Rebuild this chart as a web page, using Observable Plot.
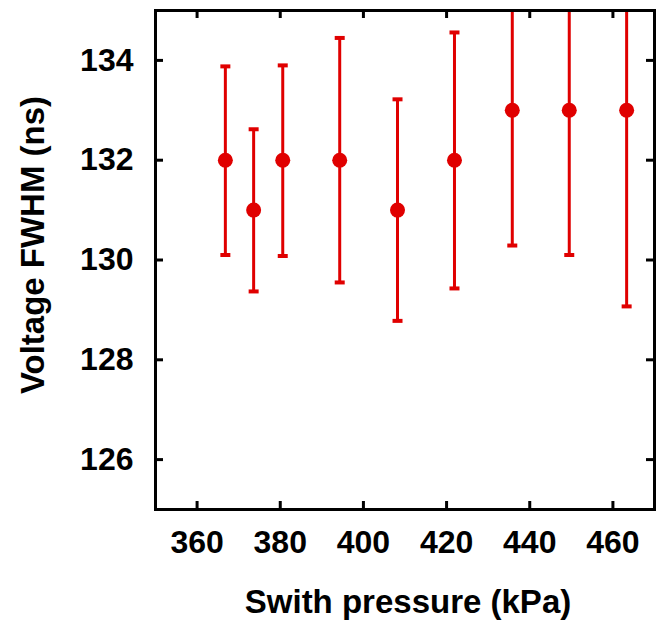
<!DOCTYPE html>
<html><head><meta charset="utf-8">
<script src="https://cdn.jsdelivr.net/npm/d3@7"></script>
<script src="https://cdn.jsdelivr.net/npm/@observablehq/plot@0.6"></script>
<style>body{margin:0;background:#fff} svg{display:block}</style>
</head><body><div id="chart"></div>
<script>
const pressure = [366.8, 373.6, 380.6, 394.3, 408.2, 421.9, 435.8, 449.5, 463.3];
const fwhm     = [132, 131, 132, 132, 131, 132, 133, 133, 133];
const errLow   = [130.10, 129.37, 130.08, 129.55, 128.78, 129.43, 130.29, 130.10, 129.07];
const errHigh  = [133.88, 132.62, 133.90, 134.45, 133.22, 134.56, 135.71, 135.90, 136.93];
const xTicks = [360, 380, 400, 420, 440, 460];
const yTicks = [126, 128, 130, 132, 134];
const xTitle = "Swith pressure (kPa)";
const yTitle = "Voltage FWHM (ns)";

const data = pressure.map((x, i) => ({x, y: fwhm[i], lo: errLow[i], hi: errHigh[i]}));
const red = "#e00000";
const capSymbol = {draw(ctx, size) { const w = Math.sqrt(size / Math.PI); ctx.moveTo(-w, 0); ctx.lineTo(w, 0); }};
const font = "'Liberation Sans', Arial, Helvetica, sans-serif";
const H = 623, mT = 10, mB = 114, W = 659, mL = 155, mR = 5;
const fh = H - mT - mB, fw = W - mL - mR, tl = 8;

const chart = Plot.plot({
  width: W, height: H,
  marginLeft: mL, marginRight: mR, marginTop: mT, marginBottom: mB,
  style: {fontFamily: font, fontWeight: "bold", background: "white", color: "black"},
  x: {domain: [350, 470]},
  y: {domain: [125, 135]},
  marks: [
    Plot.ruleX(data, {x: "x", y1: "lo", y2: "hi", stroke: red, strokeWidth: 3, clip: true}),
    Plot.dot(data, {x: "x", y: "lo", symbol: capSymbol, r: 5, fill: "none", stroke: red, strokeWidth: 4, clip: true}),
    Plot.dot(data, {x: "x", y: "hi", symbol: capSymbol, r: 5, fill: "none", stroke: red, strokeWidth: 4, clip: true}),
    Plot.dot(data, {x: "x", y: "y", r: 7.5, fill: red, stroke: "none"}),
    // inward ticks, all four sides
    Plot.ruleX(xTicks, {x: d => d, insetTop: fh - tl, stroke: "black", strokeWidth: 3}),
    Plot.ruleX(xTicks, {x: d => d, insetBottom: fh - tl, stroke: "black", strokeWidth: 3}),
    Plot.ruleY(yTicks, {y: d => d, insetRight: fw - tl, stroke: "black", strokeWidth: 3}),
    Plot.ruleY(yTicks, {y: d => d, insetLeft: fw - tl, stroke: "black", strokeWidth: 3}),
    Plot.axisX(xTicks, {anchor: "bottom", tickSize: 0, tickPadding: 21, tickFormat: "d", fontSize: 32, fontWeight: "bold", label: null}),
    Plot.axisY(yTicks, {anchor: "left", tickSize: 0, tickPadding: 22, tickFormat: "d", fontSize: 32, fontWeight: "bold", label: null}),
    Plot.frame({stroke: "black", strokeWidth: 3}),
    Plot.text([xTitle], {text: d => d, frameAnchor: "bottom", lineAnchor: "bottom", dy: 103, dx: 3, fontSize: 33, fontWeight: "bold", fill: "black"}),
    Plot.text([yTitle], {text: d => d, frameAnchor: "left", rotate: -90, lineAnchor: "bottom", textAnchor: "middle", dx: -112, dy: -15, fontSize: 33, fontWeight: "bold", fill: "black"})
  ]
});
document.getElementById("chart").append(chart);
</script>
</body></html>
